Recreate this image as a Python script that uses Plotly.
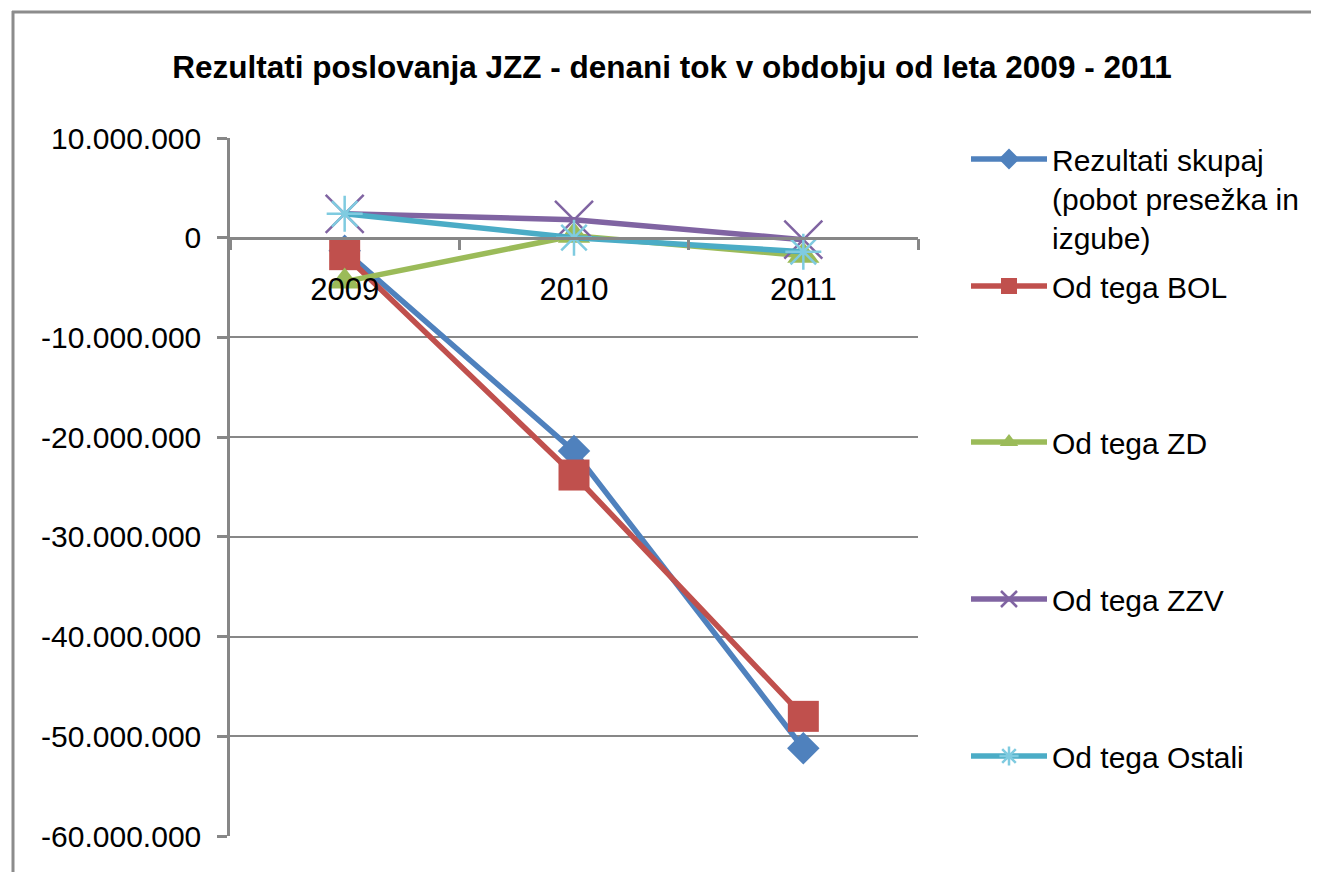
import plotly.graph_objects as go

# ---------------- data ----------------
years = ["2009", "2010", "2011"]
skupaj = [-1300000, -21400000, -51200000]
bol = [-1700000, -23800000, -48000000]
zd = [-4400000, 200000, -1800000]
zzv = [2400000, 1800000, -200000]
ostali = [2400000, 0, -1400000]

series_names = [
    "Rezultati skupaj<br>(pobot presežka in<br>izgube)",
    "Od tega BOL",
    "Od tega ZD",
    "Od tega ZZV",
    "Od tega Ostali",
]
y_ticks = [10000000, 0, -10000000, -20000000, -30000000, -40000000, -50000000, -60000000]
title_text = "Rezultati poslovanja JZZ - denani tok v obdobju od leta 2009 - 2011"

# ---------------- geometry / styling ----------------
OFF = 8                      # page body margin of the browser
W, H = 1319 - OFF, 872 - OFF

def r(p):                    # reference-screenshot pixel -> figure pixel
    return p - OFF

PL, PR, PT, PB = r(230), r(918), r(138), r(836)   # plot area
YMIN, YMAX = -60000000, 10000000
FONT = "Liberation Sans, Arial, sans-serif"
GRID = "#878787"
FRAME = "#8C8C8C"

def px_x(p):
    return (p - PL) / (PR - PL)

def px_y(p):
    return (PB - p) / (PB - PT)

def fmt(v):
    s = f"{abs(v):,}".replace(",", ".")
    return ("-" if v < 0 else "") + s

styles = [
    dict(color="#4F81BD", symbol="diamond", size=25, mline=0, mcolor="#4F81BD"),
    dict(color="#C0504D", symbol="square", size=31, mline=0, mcolor="#C0504D"),
    dict(color="#9BBB59", symbol="triangle-up", size=28, mline=0, mcolor="#9BBB59"),
    dict(color="#8064A2", symbol="x-thin", size=38, mline=2.5, mcolor="#8064A2"),
    dict(color="#4BACC6", symbol="asterisk", size=30, mline=2.5, mcolor="#7FCBE0"),
]
all_values = [skupaj, bol, zd, zzv, ostali]
legend_ids = ["legend", "legend2", "legend3", "legend4", "legend5"]
legend_y_ref = [160, 287, 443, 600, 757]   # centre of each legend symbol (reference px)

fig = go.Figure()
for name, vals, st, lid in zip(series_names, all_values, styles, legend_ids):
    fig.add_trace(go.Scatter(
        x=years, y=vals, name=name, mode="lines+markers",
        line=dict(color=st["color"], width=5.5),
        marker=dict(symbol=st["symbol"], size=st["size"], color=st["mcolor"],
                    line=dict(width=st["mline"], color=st["mcolor"])),
        legend=lid,
    ))

layout_legends = {}
for lid, yref_px in zip(legend_ids, legend_y_ref):
    layout_legends[lid] = dict(
        font=dict(family=FONT, size=30, color="#000000"),
        bgcolor="rgba(0,0,0,0)", borderwidth=0, itemwidth=76,
        xanchor="left", yanchor="top", valign="top",
        x=px_x(r(966)), y=px_y(r(yref_px - 27)),
        itemclick=False, itemdoubleclick=False,
    )

x_axis_pos = (0 - YMIN) / (YMAX - YMIN)

fig.update_layout(
    width=W, height=H,
    margin=dict(l=PL, r=W - PR, t=PT, b=H - PB, pad=0, autoexpand=False),
    paper_bgcolor="white", plot_bgcolor="white",
    showlegend=True,
    title=dict(text=f"<b>{title_text}</b>", x=r(672) / W, xanchor="center",
               y=1 - r(67) / H, yanchor="middle", yref="container", xref="container",
               font=dict(family=FONT, size=31.5, color="#000000")),
    xaxis=dict(
        type="category", range=[-0.5, 2.5], anchor="free", position=x_axis_pos,
        automargin=False,
        showline=True, linecolor=GRID, linewidth=2.5,
        ticks="outside", tickson="boundaries", ticklen=11, tickwidth=2.5, tickcolor=GRID,
        showgrid=False, zeroline=False, ticklabelstandoff=23,
        tickfont=dict(family=FONT, size=31, color="#000000"),
    ),
    yaxis=dict(
        range=[YMIN, YMAX], tickvals=y_ticks, ticktext=[fmt(v) for v in y_ticks],
        automargin=False,
        showline=True, linecolor=GRID, linewidth=2.5,
        ticks="outside", ticklen=10, tickwidth=2.5, tickcolor=GRID,
        showgrid=True, gridcolor=GRID, gridwidth=2, zeroline=False,
        ticklabelstandoff=10,
        tickfont=dict(family=FONT, size=30, color="#000000"),
    ),
    shapes=[
        dict(type="line", xref="paper", yref="paper",
             x0=px_x(r(12)), x1=px_x(r(1400)), y0=px_y(r(12)), y1=px_y(r(12)),
             line=dict(color=FRAME, width=3), layer="below"),
        dict(type="line", xref="paper", yref="paper",
             x0=px_x(r(13)), x1=px_x(r(13)), y0=px_y(r(11)), y1=px_y(r(950)),
             line=dict(color=FRAME, width=3), layer="below"),
    ],
    **layout_legends,
)

# the page must not scroll (a scrollbar would otherwise cover the right edge)
fig.write_html(
    "out.html",
    post_script="document.documentElement.style.overflow='hidden';"
                "document.body.style.overflow='hidden';",
)
